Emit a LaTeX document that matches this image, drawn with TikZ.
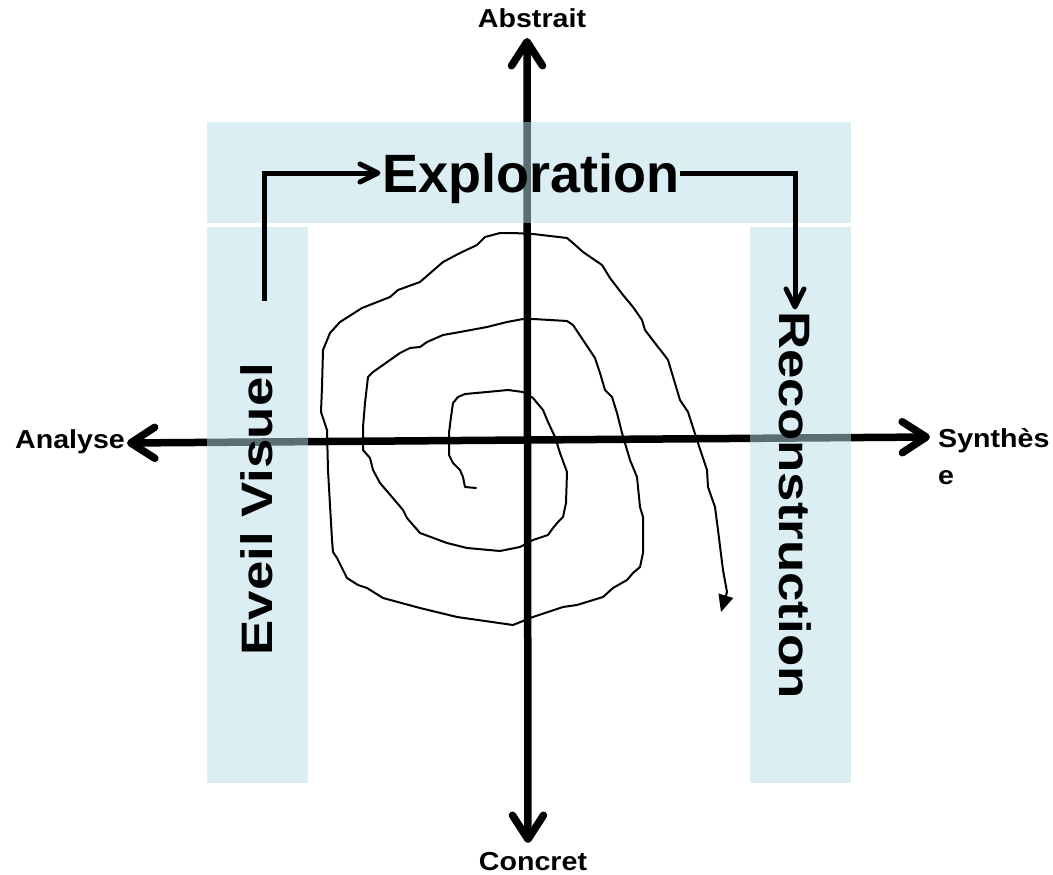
\documentclass[tikz,border=0pt]{standalone}
\usepackage{fontspec}
\setmainfont{Liberation Sans}
\usetikzlibrary{arrows.meta}
\definecolor{boxblue}{RGB}{183,221,232}
\tikzset{
  axisline/.style={line width=7.5pt, line cap=round,
    {Straight Barb[length=24pt,width=31pt,round]}-{Straight Barb[length=24pt,width=31pt,round]}},
  panel/.style={fill=boxblue, fill opacity=0.5, draw=none},
  smalllabel/.style={inner sep=0pt, font=\fontsize{26}{37}\selectfont\bfseries},
  biglabel/.style={inner sep=0pt, outer sep=0pt, font=\fontsize{54}{60}\selectfont\bfseries},
  sidelabel/.style={inner sep=0pt, outer sep=0pt, font=\fontsize{44}{48}\selectfont\bfseries},
  conn/.style={line width=5pt, line join=miter,
    -{Straight Barb[length=18pt,width=18pt,round]}},
  spiral/.style={line width=2pt, line join=round, line cap=round,
    -{Triangle[length=17pt,width=15pt]}}
}
\begin{document}
\begin{tikzpicture}[x=1pt,y=-1pt]
\useasboundingbox (0,0) rectangle (1053,875);
% labels of the axes
\node[smalllabel, anchor=base] (abstrait) at (532,28) {\scalebox{1.1}[1]{Abstrait}};
\node[smalllabel, anchor=base] (concret) at (533,870) {\scalebox{1.1}[1]{Concret}};
\node[smalllabel, anchor=base] (analyse) at (70,448) {\scalebox{1.1}[1]{Analyse}};
\node[smalllabel, anchor=north west] (synthese) at (938,421)
  {\scalebox{1.1}[1]{\begin{tabular}{@{}l@{}}Synthès\\e\end{tabular}}};
% axes end points
\coordinate (axN) at (527,38);
\coordinate (axS) at (528,843);
\coordinate (axW) at (127,443);
\coordinate (axE) at (930,437);
\draw[axisline] (axW) -- (axE);
\draw[axisline] (axN) -- (axS);
% panels
\fill[panel] (207,122) rectangle (851,223);
\fill[panel] (207,227) rectangle (307.5,783);
\fill[panel] (750,227) rectangle (851,783);
% panel texts
\node[biglabel, text height=38pt, text depth=0pt] (explo) at (531,173) {Exploration};
\node[sidelabel, rotate=90, text height=31pt, text depth=0pt] (eveil) at (257,509) {\scalebox{1.2}[1]{Eveil Visuel}};
\node[sidelabel, rotate=-90, text height=31pt, text depth=0pt] (recon) at (795,505) {\scalebox{1.2}[1]{Reconstruction}};
% connectors
\coordinate (lstart) at (264,301);
\draw[conn, shorten >=2pt] (lstart) |- (explo.west);
\draw[conn, shorten >=2pt] (explo.east) -| (recon.west);
% spiral
\draw[spiral] (476,488) -- (465,487) -- (463,477) -- (460,470) -- (453,463) -- (449,455) -- (449,433) -- (451,417) -- (453,403) -- (458,397) -- (465,394) -- (487,392) -- (508,390) -- (523,392) -- (533,398) -- (543,410) -- (548,422) -- (555,437) -- (560,453) -- (567,472) -- (566,503) -- (563,517) -- (558,522) -- (553,528) -- (548,535) -- (533,540) -- (520,547) -- (500,551) -- (467,548) -- (447,543) -- (420,533) -- (407,518) -- (403,510) -- (392,497) -- (380,483) -- (373,470) -- (370,458) -- (363,450) -- (363,427) -- (365,403) -- (368,377) -- (373,372) -- (400,353) -- (410,348) -- (420,347) -- (427,342) -- (443,335) -- (460,332) -- (487,327) -- (507,322) -- (523,319) -- (533,319) -- (567,321) -- (573,325) -- (583,340) -- (595,358) -- (600,373) -- (605,390) -- (612,397) -- (617,413) -- (622,433) -- (630,460) -- (637,477) -- (640,507) -- (643,517) -- (643,553) -- (640,567) -- (633,573) -- (627,580) -- (613,588) -- (603,597) -- (577,605) -- (563,607) -- (533,617) -- (513,625) -- (457,617) -- (420,608) -- (383,598) -- (367,588) -- (358,585) -- (347,578) -- (343,570) -- (337,558) -- (333,552) -- (332,540) -- (328,470) -- (327,430) -- (321,412) -- (322,387) -- (323,350) -- (330,333) -- (340,322) -- (362,308) -- (390,297) -- (398,290) -- (420,282) -- (443,262) -- (460,253) -- (477,245) -- (485,237) -- (500,233) -- (513,233) -- (533,234) -- (567,238) -- (573,243) -- (583,252) -- (602,265) -- (610,278) -- (623,295) -- (633,307) -- (642,320) -- (645,330) -- (658,347) -- (662,352) -- (668,360) -- (680,400) -- (688,412) -- (697,440) -- (707,470) -- (708,487) -- (715,507) -- (718,530) -- (723,570) -- (727,592) -- (721,612);
\end{tikzpicture}
\end{document}
